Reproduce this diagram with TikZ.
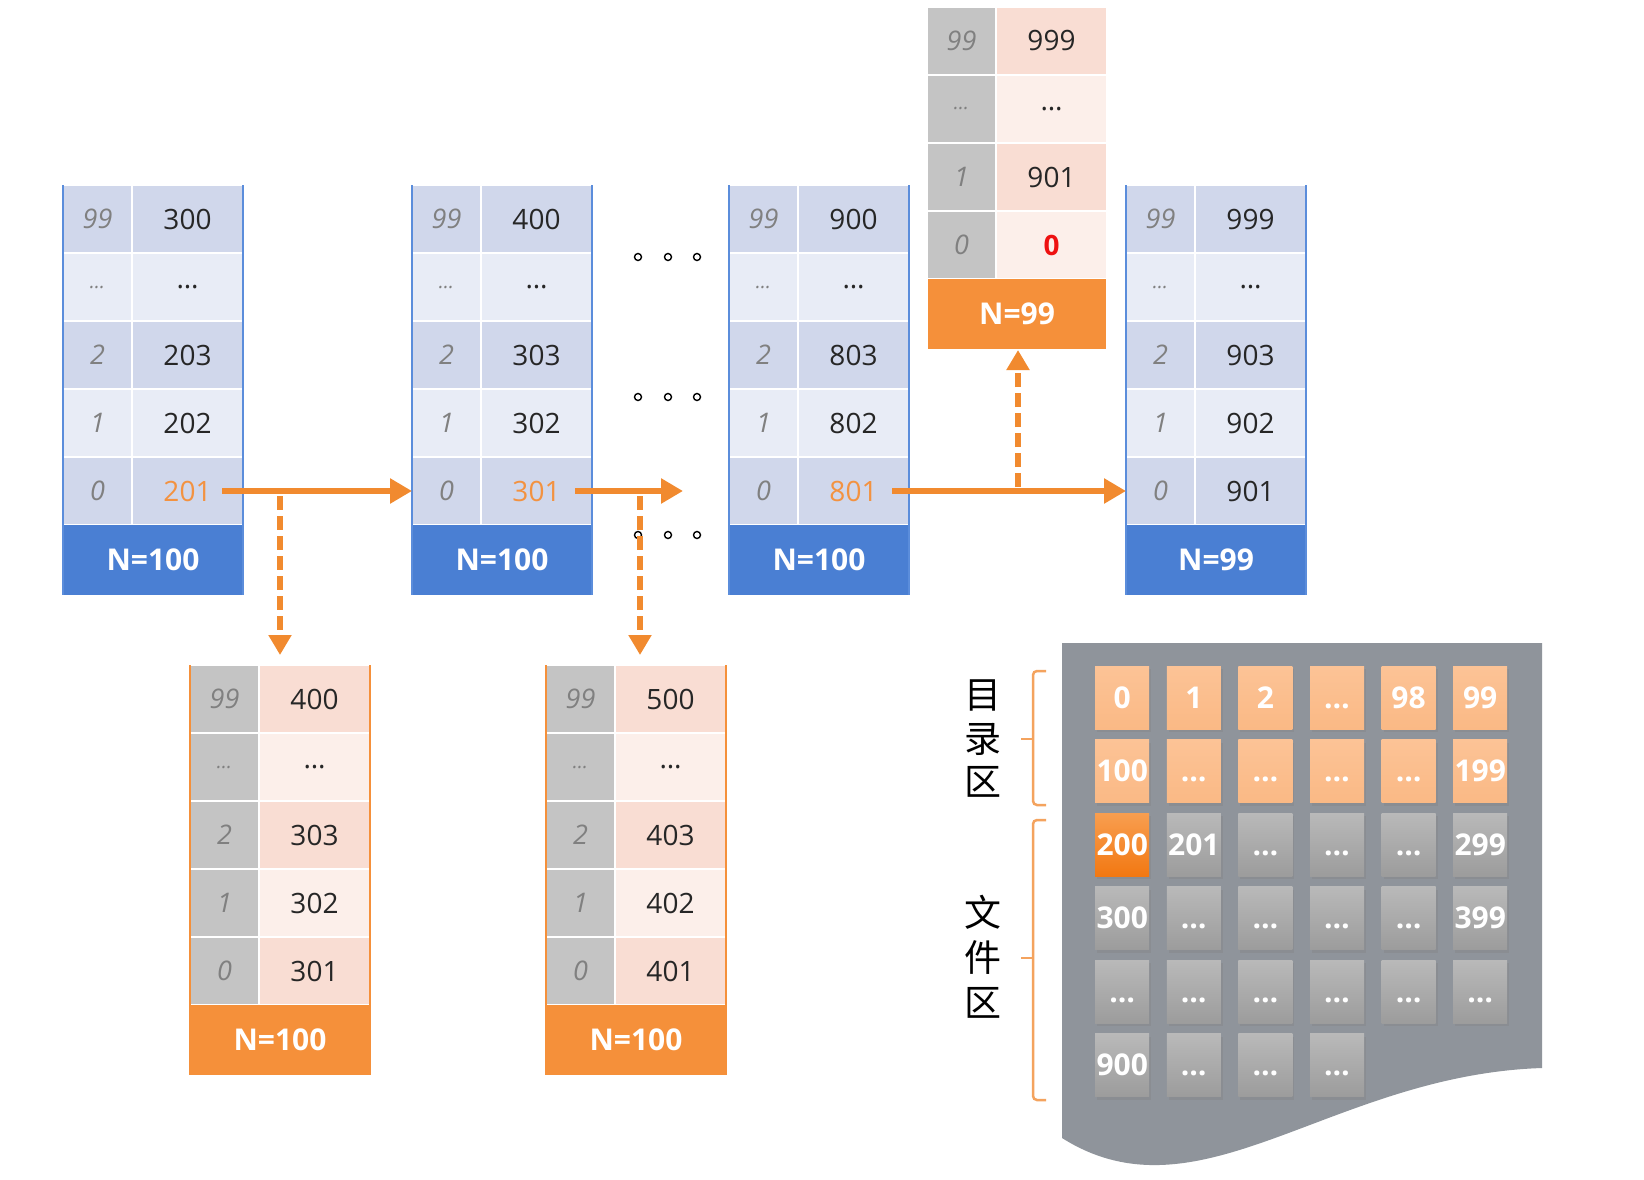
\documentclass[tikz,border=0pt]{standalone}
\usepackage{fontspec}
\setmainfont{Open Sans}
\newfontfamily\cjk{Noto Sans CJK SC}
\usetikzlibrary{arrows.meta,shadows}
\definecolor{bluvdark}{HTML}{D0D7EB}
\definecolor{bluvlight}{HTML}{E8ECF6}
\definecolor{bluidark}{HTML}{D0D7EB}
\definecolor{bluilight}{HTML}{E8ECF6}
\definecolor{blun}{HTML}{4A7FD3}
\definecolor{bluborder}{HTML}{5B8DDB}
\definecolor{orgvdark}{HTML}{F9DDD3}
\definecolor{orgvlight}{HTML}{FCEFEA}
\definecolor{orgidark}{HTML}{C4C4C4}
\definecolor{orgilight}{HTML}{C4C4C4}
\definecolor{orgn}{HTML}{F5903A}
\definecolor{orgborder}{HTML}{F5903A}
\colorlet{topvdark}{orgvdark}
\colorlet{topvlight}{orgvlight}
\colorlet{topidark}{orgidark}
\colorlet{topilight}{orgilight}
\colorlet{topn}{orgn}
\colorlet{topborder}{white}
\definecolor{arr}{HTML}{F18A2F}
\definecolor{txt}{HTML}{262626}
\definecolor{idxgray}{HTML}{808080}
\definecolor{redv}{HTML}{EE1111}
\definecolor{orat}{HTML}{F39240}
\definecolor{panel}{HTML}{8F949B}
\definecolor{bracec}{HTML}{F4A35E}
\definecolor{pchtop}{HTML}{FCC396}
\definecolor{pchbot}{HTML}{FAB985}
\definecolor{ortop}{HTML}{F89E50}
\definecolor{orbot}{HTML}{F27812}
\definecolor{grtop}{HTML}{B9B9B9}
\definecolor{grbot}{HTML}{9C9C9C}
\newcommand\idots{{\fontsize{20}{20}\selectfont\ldots}}
\tikzset{
  cellbase/.style={rectangle, draw=white, line width=1.5pt, inner sep=0pt, outer sep=0pt, anchor=north west, minimum height=68pt},
  idxcell/.style={cellbase, minimum width=69pt, text=idxgray, font=\fontsize{27}{27}\selectfont\itshape},
  valcell/.style={cellbase, minimum width=111pt, text=txt, font=\fontsize{28}{28}\selectfont},
  ncell/.style={rectangle, inner sep=0pt, outer sep=0pt, anchor=north west, minimum width=180pt, minimum height=70pt, text=white, font=\fontsize{30}{30}\selectfont\bfseries},
  mainarrow/.style={draw=arr, line width=6.5pt, -{Triangle[length=22pt,width=24pt]}},
  dasharrow/.style={draw=arr, line width=6pt, dash pattern=on 14pt off 6pt, -{Triangle[length=20pt,width=22pt]}},
  dotc/.style={circle, draw=black, line width=1.4pt, minimum size=7pt, inner sep=0pt},
  tile/.style={rectangle, anchor=north west, minimum width=54pt, minimum height=63pt, inner sep=0pt, text=white, text height=21pt, text depth=0pt, font=\fontsize{30}{30}\selectfont\bfseries, drop shadow={opacity=0.3, shadow xshift=2pt, shadow yshift=-3pt}},
  tpeach/.style={top color=pchtop, bottom color=pchbot},
  torange/.style={top color=ortop, bottom color=orbot},
  tgray/.style={top color=grtop, bottom color=grbot},
  brace/.style={draw=bracec, line width=2.5pt, rounded corners=4pt},
  cjkl/.style={font=\cjk\fontsize{37}{37}\selectfont, text=black, inner sep=0pt},
}
\newcommand\mblock[6]{%
  \coordinate (#1-top) at (#2+90,#3);
  \foreach [count=\k] \ix/\vl in {#5}{%
    \ifodd\k\relax
      \colorlet{curv}{#4vdark}\colorlet{curi}{#4idark}%
    \else
      \colorlet{curv}{#4vlight}\colorlet{curi}{#4ilight}%
    \fi
    \node[idxcell,fill=curi] (#1-i\k) at (#2,#3+68*\k-68) {\ix};
    \node[valcell,fill=curv] (#1-v\k) at (#2+69,#3+68*\k-68) {\vl};
    \xdef\nrows{\k}%
  }
  \node[ncell,fill=#4n] (#1-n) at (#2,#3+68*\nrows) {#6};
  \coordinate (#1-bot) at (#2+90,#3+68*\nrows+70);
  \draw[draw=#4border,line width=2.5pt] (#1-i1.north west) -- (#1-n.south west);
  \draw[draw=#4border,line width=2.5pt] (#1-v1.north east) -- (#1-n.south east);
}
\begin{document}
\begin{tikzpicture}[x=1pt,y=-1pt]
\useasboundingbox (0,0) rectangle (1644,1180);
\fill[white] (0,0) rectangle (1644,1180);

% blocks
\mblock{b1}{63}{185}{blu}{99/300, \idots/\ldots, 2/203, 1/202, 0/{\color{orat}201}}{N=100}
\mblock{b2}{412}{185}{blu}{99/400, \idots/\ldots, 2/303, 1/302, 0/{\color{orat}301}}{N=100}
\mblock{b3}{729}{185}{blu}{99/900, \idots/\ldots, 2/803, 1/802, 0/{\color{orat}801}}{N=100}
\mblock{b4}{1126}{185}{blu}{99/999, \idots/\ldots, 2/903, 1/902, 0/901}{N=99}
\mblock{b7}{927}{7}{top}{99/999, \idots/\ldots, 1/901, 0/{\bfseries\color{redv}0}}{N=99}
\mblock{b5}{190}{665}{org}{99/400, \idots/\ldots, 2/303, 1/302, 0/301}{N=100}
\mblock{b6}{546}{665}{org}{99/500, \idots/\ldots, 2/403, 1/402, 0/401}{N=100}

% dots
\foreach \yy [count=\r] in {257,397,535}
  \foreach \xx [count=\c] in {638,668,697}
    \node[dotc] (dot\r\c) at (\xx,\yy) {};

% arrows
\coordinate (s1) at ([xshift=-21pt]b1-v5.east);
\draw[mainarrow] (s1) -- (b2-i5.west);
\coordinate (s2) at ([xshift=-17pt]b2-v5.east);
\coordinate (e2) at ([xshift=91pt]b2-v5.east);
\draw[mainarrow] (s2) -- (e2);
\coordinate (s3) at ([xshift=-17pt]b3-v5.east);
\draw[mainarrow] (s3) -- (b4-i5.west);

\coordinate (d1) at ([xshift=37pt]b1-v5.east);
\draw[dasharrow, shorten <=5pt, shorten >=10pt] (d1) -- (d1 |- b5-top);
\coordinate (d2) at ([xshift=48pt]b2-v5.east);
\draw[dasharrow, shorten <=5pt, shorten >=10pt] (d2) -- (d2 |- b6-top);
\coordinate (d3) at ([xshift=109pt]b3-v5.east);
\draw[dasharrow, shorten <=4pt, shorten >=1pt] (d3) -- (d3 |- b7-bot);

% disk panel
\fill[panel] (1062,643) -- (1542,643) -- (1542,1068)
  .. controls (1330,1075) and (1200,1225) .. (1062,1138) -- cycle;

% tiles
\foreach \lab [count=\c from 0] in {0,1,2,\ldots,98,99}
  \node[tile,tpeach] (ta\c) at (1095+71.6*\c,666) {\lab};
\foreach \lab [count=\c from 0] in {100,\ldots,\ldots,\ldots,\ldots,199}
  \node[tile,tpeach] (tb\c) at (1095+71.6*\c,739.5) {\lab};
\node[tile,torange] (tc0) at (1095,813) {200};
\foreach \lab [count=\c from 1] in {201,\ldots,\ldots,\ldots,299}
  \node[tile,tgray] (tc\c) at (1095+71.6*\c,813) {\lab};
\foreach \lab [count=\c from 0] in {300,\ldots,\ldots,\ldots,\ldots,399}
  \node[tile,tgray] (td\c) at (1095+71.6*\c,886.5) {\lab};
\foreach \lab [count=\c from 0] in {\ldots,\ldots,\ldots,\ldots,\ldots,\ldots}
  \node[tile,tgray] (te\c) at (1095+71.6*\c,960) {\lab};
\foreach \lab [count=\c from 0] in {900,\ldots,\ldots,\ldots}
  \node[tile,tgray] (tf\c) at (1095+71.6*\c,1033.5) {\lab};

% braces
\draw[brace] (1046,671) -- (1033,671) -- (1033,805) -- (1046,805);
\draw[brace] (1033,739) -- (1021,739);
\draw[brace] (1046,820) -- (1033,820) -- (1033,1100) -- (1046,1100);
\draw[brace] (1033,958) -- (1021,958);

% labels
\node[cjkl] (m1) at (983,695) {目};
\node[cjkl] (m2) at (983,739) {录};
\node[cjkl] (m3) at (983,782) {区};
\node[cjkl] (f1) at (983,912) {文};
\node[cjkl] (f2) at (983,958) {件};
\node[cjkl] (f3) at (983,1003) {区};
\end{tikzpicture}
\end{document}
